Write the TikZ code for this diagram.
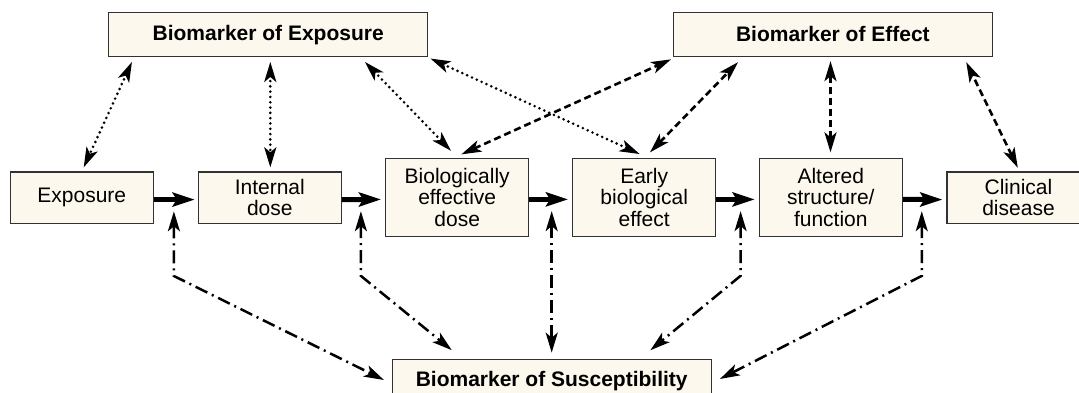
\documentclass[tikz,border=0pt]{standalone}
\usepackage{fontspec}
\setmainfont{Liberation Sans}
\usetikzlibrary{arrows.meta,calc}
\definecolor{boxfill}{RGB}{253,248,237}
\definecolor{boxline}{RGB}{50,50,50}
\begin{document}
\begin{tikzpicture}[x=1pt,y=-1pt,
  >={Stealth[length=20pt,width=12pt,inset=5pt]},
  box/.style={draw=boxline,line width=1.3pt,fill=boxfill,align=center,inner sep=0pt,
    font=\fontsize{21}{21.5}\selectfont},
  topbox/.style={box,minimum width=319pt,minimum height=44pt,
    font=\fontsize{21}{21.5}\selectfont\bfseries},
  smallbox/.style={box,minimum width=143pt,minimum height=51.4pt},
  tallbox/.style={box,minimum width=143pt,minimum height=78.4pt},
  flow/.style={line width=5pt,-{Stealth[length=22pt,width=14pt,inset=4pt]}},
  dotc/.style={line width=2.9pt,line cap=round,dash pattern=on 0pt off 5.3pt,<->},
  dashc/.style={line width=2.6pt,dash pattern=on 7pt off 4pt,<->},
  ddc/.style={line width=2.5pt,dash pattern=on 13pt off 5pt on 2pt off 5pt,<->}]
\clip (0,0) rectangle (1079,393);
\fill[white] (0,0) rectangle (1079,393);

% top boxes
\node[topbox] (boe) at (268.2,34.7) {Biomarker of Exposure};
\node[topbox] (boeff) at (832.9,34.4) {Biomarker of Effect};
\node[topbox] (bos) at (551.7,381.4) {Biomarker of Susceptibility};

% middle boxes
\node[smallbox] (expo) at (81.8,197.6) {Exposure};
\node[smallbox] (internal) at (269.8,197.6) {Internal\\dose};
\node[tallbox] (bed) at (457.2,197.4) {Biologically\\effective\\dose};
\node[tallbox] (ebe) at (644.2,197.4) {Early\\biological\\effect};
\node[tallbox] (asf) at (830.8,197.4) {Altered\\structure/\\function};
\node[smallbox] (cd) at (1018.5,197.6) {Clinical\\disease};

% flow arrows
\draw[flow] ($(expo.east)+(0,2)$) -- ($(internal.west)+(-3,2)$);
\draw[flow] ($(internal.east)+(0,2)$) -- ($(bed.west)+(-4,2)$);
\draw[flow] ($(bed.east)+(0,2)$) -- ($(ebe.west)+(-4,2)$);
\draw[flow] ($(ebe.east)+(0,2)$) -- ($(asf.west)+(-4,2)$);
\draw[flow] ($(asf.east)+(0,2)$) -- ($(cd.west)+(-4,2)$);

% biomarker of exposure (dotted)
\draw[dotc] ($(boe.south west)+(23.9,4.6)$) -- ($(expo.north)+(1.9,-3.9)$);
\draw[dotc] ($(internal.north|-boe.south)+(0.5,4.6)$) -- ($(internal.north)+(0.5,-3.9)$);
\draw[dotc] ($(boe.south east)+(-63.4,4.6)$) -- ($(bed.north)+(-6.2,-6.7)$);
\draw[dotc] ($(boe.south east)+(2.1,1.2)$) -- ($(ebe.north)+(-4.5,-3.5)$);

% biomarker of effect (dashed)
\draw[dashc] ($(bed.north)+(4.2,-3.2)$) -- ($(boeff.south west)+(-1.7,2.3)$);
\draw[dashc] ($(ebe.north)+(5.8,-5.2)$) -- ($(boeff.south west)+(65.3,5.1)$);
\draw[dashc] ($(asf.north)+(-0.3,-5.2)$) -- ($(asf.north|-boeff.south)+(-0.3,4.1)$);
\draw[dashc] ($(cd.north)+(-0.7,-3.5)$) -- ($(boeff.south east)+(-26.8,5.1)$);

% gap points
\coordinate (g1) at ($(expo.east)!0.5!(internal.west)$);
\coordinate (g2) at ($(internal.east)!0.5!(bed.west)$);
\coordinate (g3) at ($(bed.east)!0.5!(ebe.west)$);
\coordinate (g4) at ($(ebe.east)!0.5!(asf.west)$);
\coordinate (g5) at ($(asf.east)!0.5!(cd.west)$);

% biomarker of susceptibility (dash-dot)
\draw[ddc] ($(g1)+(-1.9,13.7)$) -- ++(0,64.7) -- ($(bos.west)+(-7.6,-1.4)$);
\draw[ddc] ($(g2)+(-2.6,13.7)$) -- ++(0,64.7) -- ($(bos.north west)+(60.2,-8.6)$);
\draw[ddc] ($(g3)+(1,13.7)$) -- ($(g3|-bos.north)+(1,-6.1)$);
\draw[ddc] ($(g4)+(3.1,13.7)$) -- ++(0,64.7) -- ($(bos.north east)+(-61.5,-8.5)$);
\draw[ddc] ($(g5)+(-2.9,13.7)$) -- ++(0,64.7) -- ($(bos.east)+(8,-2.4)$);
\end{tikzpicture}
\end{document}
